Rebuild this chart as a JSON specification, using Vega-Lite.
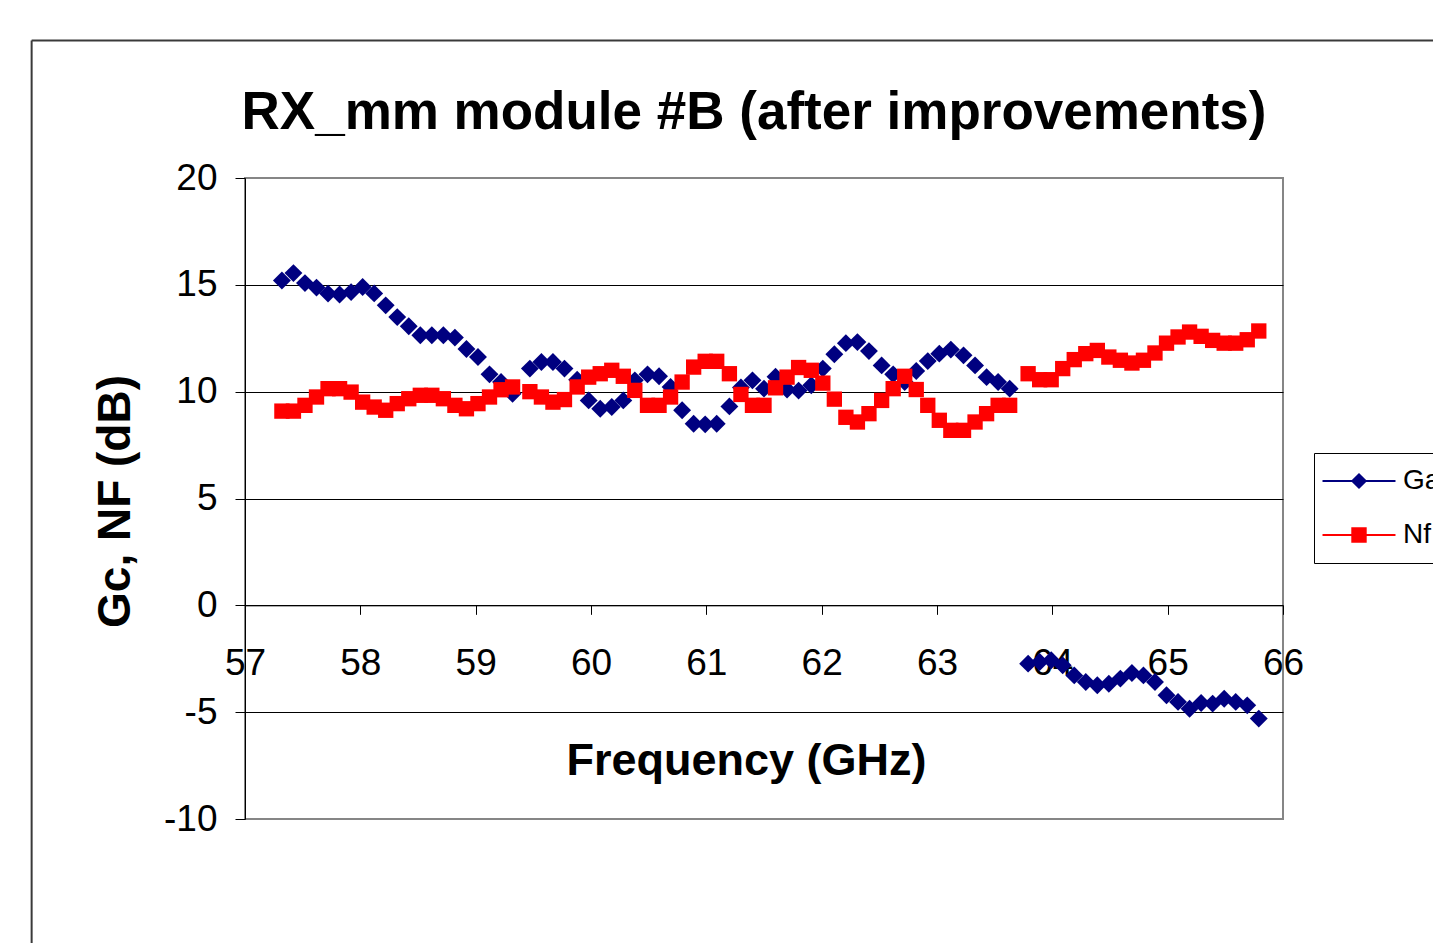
{
  "$schema": "https://vega.github.io/schema/vega-lite/v6.json",
  "width": 1038,
  "height": 641,
  "autosize": {"type": "none"},
  "padding": {"left": 245, "top": 178, "right": 150, "bottom": 124},
  "background": "white",
  "view": {"stroke": "#868686", "strokeWidth": 2, "fill": "white"},
  "title": {
    "text": "RX_mm module #B (after improvements)",
    "font": "Liberation Sans",
    "fontSize": 53,
    "fontWeight": "bold",
    "color": "black",
    "anchor": "middle",
    "dx": -10,
    "offset": -101
  },
  "config": {
    "font": "Liberation Sans"
  },
  "resolve": {
    "scale": {"color": "independent", "shape": "independent"},
    "legend": {"color": "independent", "shape": "independent"}
  },
  "data": {
    "values": [
      {"f": 57.32, "s": "Gain", "v": 15.2}, {"f": 57.42, "s": "Gain", "v": 15.55}, {"f": 57.52, "s": "Gain", "v": 15.08},
      {"f": 57.62, "s": "Gain", "v": 14.87}, {"f": 57.72, "s": "Gain", "v": 14.59}, {"f": 57.82, "s": "Gain", "v": 14.55},
      {"f": 57.92, "s": "Gain", "v": 14.66}, {"f": 58.02, "s": "Gain", "v": 14.9}, {"f": 58.12, "s": "Gain", "v": 14.6},
      {"f": 58.22, "s": "Gain", "v": 14.04}, {"f": 58.32, "s": "Gain", "v": 13.49}, {"f": 58.42, "s": "Gain", "v": 13.06},
      {"f": 58.52, "s": "Gain", "v": 12.64}, {"f": 58.62, "s": "Gain", "v": 12.64}, {"f": 58.72, "s": "Gain", "v": 12.64},
      {"f": 58.82, "s": "Gain", "v": 12.53}, {"f": 58.92, "s": "Gain", "v": 12.0}, {"f": 59.02, "s": "Gain", "v": 11.62},
      {"f": 59.12, "s": "Gain", "v": 10.81}, {"f": 59.22, "s": "Gain", "v": 10.45}, {"f": 59.32, "s": "Gain", "v": 9.9},
      {"f": 59.47, "s": "Gain", "v": 11.08}, {"f": 59.57, "s": "Gain", "v": 11.39}, {"f": 59.67, "s": "Gain", "v": 11.39},
      {"f": 59.77, "s": "Gain", "v": 11.08}, {"f": 59.88, "s": "Gain", "v": 10.56}, {"f": 59.98, "s": "Gain", "v": 9.59},
      {"f": 60.08, "s": "Gain", "v": 9.2}, {"f": 60.18, "s": "Gain", "v": 9.28}, {"f": 60.28, "s": "Gain", "v": 9.59},
      {"f": 60.38, "s": "Gain", "v": 10.53}, {"f": 60.49, "s": "Gain", "v": 10.81}, {"f": 60.59, "s": "Gain", "v": 10.72},
      {"f": 60.69, "s": "Gain", "v": 10.22}, {"f": 60.79, "s": "Gain", "v": 9.13}, {"f": 60.89, "s": "Gain", "v": 8.5},
      {"f": 60.99, "s": "Gain", "v": 8.47}, {"f": 61.09, "s": "Gain", "v": 8.5}, {"f": 61.2, "s": "Gain", "v": 9.31},
      {"f": 61.3, "s": "Gain", "v": 10.2}, {"f": 61.4, "s": "Gain", "v": 10.53}, {"f": 61.5, "s": "Gain", "v": 10.14},
      {"f": 61.6, "s": "Gain", "v": 10.7}, {"f": 61.7, "s": "Gain", "v": 10.1}, {"f": 61.8, "s": "Gain", "v": 10.05},
      {"f": 61.91, "s": "Gain", "v": 10.3}, {"f": 62.01, "s": "Gain", "v": 11.08}, {"f": 62.11, "s": "Gain", "v": 11.75},
      {"f": 62.21, "s": "Gain", "v": 12.27}, {"f": 62.31, "s": "Gain", "v": 12.32}, {"f": 62.41, "s": "Gain", "v": 11.9},
      {"f": 62.52, "s": "Gain", "v": 11.23}, {"f": 62.62, "s": "Gain", "v": 10.81}, {"f": 62.72, "s": "Gain", "v": 10.45},
      {"f": 62.82, "s": "Gain", "v": 10.97}, {"f": 62.92, "s": "Gain", "v": 11.43}, {"f": 63.02, "s": "Gain", "v": 11.78},
      {"f": 63.12, "s": "Gain", "v": 11.97}, {"f": 63.23, "s": "Gain", "v": 11.7}, {"f": 63.33, "s": "Gain", "v": 11.23},
      {"f": 63.43, "s": "Gain", "v": 10.68}, {"f": 63.53, "s": "Gain", "v": 10.45}, {"f": 63.63, "s": "Gain", "v": 10.14},
      {"f": 63.79, "s": "Gain", "v": -2.73}, {"f": 63.89, "s": "Gain", "v": -2.65}, {"f": 63.99, "s": "Gain", "v": -2.57},
      {"f": 64.09, "s": "Gain", "v": -2.81}, {"f": 64.19, "s": "Gain", "v": -3.28}, {"f": 64.29, "s": "Gain", "v": -3.59},
      {"f": 64.39, "s": "Gain", "v": -3.74}, {"f": 64.49, "s": "Gain", "v": -3.67}, {"f": 64.59, "s": "Gain", "v": -3.43},
      {"f": 64.69, "s": "Gain", "v": -3.17}, {"f": 64.79, "s": "Gain", "v": -3.28}, {"f": 64.89, "s": "Gain", "v": -3.59},
      {"f": 64.99, "s": "Gain", "v": -4.21}, {"f": 65.09, "s": "Gain", "v": -4.52}, {"f": 65.19, "s": "Gain", "v": -4.84},
      {"f": 65.29, "s": "Gain", "v": -4.57}, {"f": 65.39, "s": "Gain", "v": -4.6}, {"f": 65.49, "s": "Gain", "v": -4.37},
      {"f": 65.59, "s": "Gain", "v": -4.52}, {"f": 65.69, "s": "Gain", "v": -4.68}, {"f": 65.79, "s": "Gain", "v": -5.3},

      {"f": 57.32, "s": "Nf", "v": 9.09}, {"f": 57.42, "s": "Nf", "v": 9.09}, {"f": 57.52, "s": "Nf", "v": 9.36},
      {"f": 57.62, "s": "Nf", "v": 9.75}, {"f": 57.72, "s": "Nf", "v": 10.14}, {"f": 57.82, "s": "Nf", "v": 10.14},
      {"f": 57.92, "s": "Nf", "v": 9.98}, {"f": 58.02, "s": "Nf", "v": 9.51}, {"f": 58.12, "s": "Nf", "v": 9.28},
      {"f": 58.22, "s": "Nf", "v": 9.13}, {"f": 58.32, "s": "Nf", "v": 9.44}, {"f": 58.42, "s": "Nf", "v": 9.67},
      {"f": 58.52, "s": "Nf", "v": 9.83}, {"f": 58.62, "s": "Nf", "v": 9.83}, {"f": 58.72, "s": "Nf", "v": 9.67},
      {"f": 58.82, "s": "Nf", "v": 9.36}, {"f": 58.92, "s": "Nf", "v": 9.2}, {"f": 59.02, "s": "Nf", "v": 9.44},
      {"f": 59.12, "s": "Nf", "v": 9.75}, {"f": 59.22, "s": "Nf", "v": 10.09}, {"f": 59.32, "s": "Nf", "v": 10.22},
      {"f": 59.47, "s": "Nf", "v": 10.0}, {"f": 59.57, "s": "Nf", "v": 9.75}, {"f": 59.67, "s": "Nf", "v": 9.51},
      {"f": 59.77, "s": "Nf", "v": 9.63}, {"f": 59.88, "s": "Nf", "v": 10.22}, {"f": 59.98, "s": "Nf", "v": 10.68},
      {"f": 60.08, "s": "Nf", "v": 10.84}, {"f": 60.18, "s": "Nf", "v": 11.0}, {"f": 60.28, "s": "Nf", "v": 10.72},
      {"f": 60.38, "s": "Nf", "v": 10.06}, {"f": 60.49, "s": "Nf", "v": 9.36}, {"f": 60.59, "s": "Nf", "v": 9.36},
      {"f": 60.69, "s": "Nf", "v": 9.75}, {"f": 60.79, "s": "Nf", "v": 10.45}, {"f": 60.89, "s": "Nf", "v": 11.15},
      {"f": 60.99, "s": "Nf", "v": 11.42}, {"f": 61.09, "s": "Nf", "v": 11.42}, {"f": 61.2, "s": "Nf", "v": 10.84},
      {"f": 61.3, "s": "Nf", "v": 9.87}, {"f": 61.4, "s": "Nf", "v": 9.36}, {"f": 61.5, "s": "Nf", "v": 9.36},
      {"f": 61.6, "s": "Nf", "v": 10.18}, {"f": 61.7, "s": "Nf", "v": 10.68}, {"f": 61.8, "s": "Nf", "v": 11.13},
      {"f": 61.91, "s": "Nf", "v": 11.0}, {"f": 62.01, "s": "Nf", "v": 10.4}, {"f": 62.11, "s": "Nf", "v": 9.65},
      {"f": 62.21, "s": "Nf", "v": 8.8}, {"f": 62.31, "s": "Nf", "v": 8.58}, {"f": 62.41, "s": "Nf", "v": 8.97},
      {"f": 62.52, "s": "Nf", "v": 9.59}, {"f": 62.62, "s": "Nf", "v": 10.14}, {"f": 62.72, "s": "Nf", "v": 10.72},
      {"f": 62.82, "s": "Nf", "v": 10.1}, {"f": 62.92, "s": "Nf", "v": 9.36}, {"f": 63.02, "s": "Nf", "v": 8.66},
      {"f": 63.12, "s": "Nf", "v": 8.19}, {"f": 63.23, "s": "Nf", "v": 8.19}, {"f": 63.33, "s": "Nf", "v": 8.58},
      {"f": 63.43, "s": "Nf", "v": 8.97}, {"f": 63.53, "s": "Nf", "v": 9.36}, {"f": 63.63, "s": "Nf", "v": 9.36},
      {"f": 63.79, "s": "Nf", "v": 10.84}, {"f": 63.89, "s": "Nf", "v": 10.56}, {"f": 63.99, "s": "Nf", "v": 10.56},
      {"f": 64.09, "s": "Nf", "v": 11.08}, {"f": 64.19, "s": "Nf", "v": 11.5}, {"f": 64.29, "s": "Nf", "v": 11.78},
      {"f": 64.39, "s": "Nf", "v": 11.93}, {"f": 64.49, "s": "Nf", "v": 11.62}, {"f": 64.59, "s": "Nf", "v": 11.47},
      {"f": 64.69, "s": "Nf", "v": 11.34}, {"f": 64.79, "s": "Nf", "v": 11.47}, {"f": 64.89, "s": "Nf", "v": 11.81},
      {"f": 64.99, "s": "Nf", "v": 12.27}, {"f": 65.09, "s": "Nf", "v": 12.56}, {"f": 65.19, "s": "Nf", "v": 12.79},
      {"f": 65.29, "s": "Nf", "v": 12.59}, {"f": 65.39, "s": "Nf", "v": 12.4}, {"f": 65.49, "s": "Nf", "v": 12.27},
      {"f": 65.59, "s": "Nf", "v": 12.27}, {"f": 65.69, "s": "Nf", "v": 12.43}, {"f": 65.79, "s": "Nf", "v": 12.84}
    ]
  },
  "layer": [
    {
      "data": {"values": [{}]},
      "mark": {"type": "rule", "clip": false, "color": "#3a3a3a", "strokeWidth": 2},
      "encoding": {
        "x": {"datum": 55.15, "type": "quantitative"},
        "y": {"datum": 26.44, "type": "quantitative"},
        "y2": {"datum": -20}
      }
    },
    {
      "data": {"values": [{}]},
      "mark": {"type": "rule", "clip": false, "color": "#3a3a3a", "strokeWidth": 2},
      "encoding": {
        "x": {"datum": 55.15, "type": "quantitative"},
        "x2": {"datum": 70},
        "y": {"datum": 26.44, "type": "quantitative"}
      }
    },
    {
      "mark": {"type": "point", "filled": true, "opacity": 1},
      "encoding": {
        "x": {
          "field": "f",
          "type": "quantitative",
          "scale": {"domain": [57, 66], "nice": false, "zero": false},
          "axis": {
            "values": [57, 58, 59, 60, 61, 62, 63, 64, 65, 66],
            "labelExpr": "'' + datum.value",
            "grid": false,
            "offset": -213.67,
            "domainColor": "black",
            "domainWidth": 1,
            "tickColor": "black",
            "tickSize": 9,
            "labelPadding": 31,
            "labelFont": "Liberation Sans",
            "labelFontSize": 37,
            "labelColor": "black",
            "labelFlush": false,
            "labelOverlap": false,
            "title": "Frequency (GHz)",
            "titleFont": "Liberation Sans",
            "titleFontSize": 45,
            "titleFontWeight": "bold",
            "titleColor": "black",
            "titleX": 501,
            "titleY": 169,
            "titleAlign": "center",
            "titleBaseline": "alphabetic"
          }
        },
        "y": {
          "field": "v",
          "type": "quantitative",
          "scale": {"domain": [-10, 20], "nice": false, "zero": false},
          "axis": {
            "values": [-10, -5, 0, 5, 10, 15, 20],
            "labelExpr": "'' + datum.value",
            "grid": true,
            "gridColor": {"condition": {"test": "datum.value == 20 || datum.value == -10", "value": "transparent"}, "value": "black"},
            "gridWidth": 1,
            "gridOpacity": 1,
            "domainColor": "black",
            "domainWidth": 1,
            "tickColor": "black",
            "tickSize": 10,
            "labelPadding": 18,
            "labelFont": "Liberation Sans",
            "labelFontSize": 37,
            "labelColor": "black",
            "labelFlush": false,
            "labelOverlap": false,
            "title": "Gc, NF (dB)",
            "titleFont": "Liberation Sans",
            "titleFontSize": 46,
            "titleFontWeight": "bold",
            "titleColor": "black",
            "titleX": -116,
            "titleY": 323,
            "titleAngle": -90,
            "titleAlign": "center",
            "titleBaseline": "alphabetic"
          }
        },
        "color": {
          "field": "s",
          "type": "nominal",
          "scale": {"domain": ["Gain", "Nf"], "range": ["#000080", "#FF0000"]},
          "legend": null
        },
        "shape": {"condition": {"test": "datum.s === 'Gain'", "value": "diamond"}, "value": "square"},
        "size": {"condition": {"test": "datum.s === 'Gain'", "value": 320}, "value": 235}
      }
    },
    {
      "transform": [{"filter": "datum.v > 1000"}],
      "mark": {"type": "point", "filled": true, "opacity": 1},
      "encoding": {
        "x": {"field": "f", "type": "quantitative"},
        "y": {"field": "v", "type": "quantitative"},
        "color": {
          "field": "s",
          "type": "nominal",
          "scale": {"domain": ["Gain", "Nf"], "range": ["#000080", "#FF0000"]},
          "legend": {
            "orient": "none",
            "legendX": 1069,
            "legendY": 275,
            "title": null,
            "strokeColor": "black",
            "fillColor": "white",
            "padding": 14,
            "labelFont": "Liberation Sans",
            "labelFontSize": 28,
            "labelColor": "black",
            "labelLimit": 0,
            "symbolSize": 263,
            "symbolOffset": 17,
            "labelOffset": 30,
            "rowPadding": 26
          }
        },
        "shape": {
          "field": "s",
          "type": "nominal",
          "scale": {
            "domain": ["Gain", "Nf"],
            "range": ["M-4.5,-0.13H4.5V0.13H-4.5ZM0,-1L1,0L0,1L-1,0Z", "M-4.5,-0.13H4.5V0.13H-4.5ZM-0.95,-0.95H0.95V0.95H-0.95Z"]
          },
          "legend": {
            "orient": "none",
            "legendX": 1069,
            "legendY": 275,
            "title": null,
            "strokeColor": "black",
            "fillColor": "white",
            "padding": 14,
            "labelFont": "Liberation Sans",
            "labelFontSize": 28,
            "labelColor": "black",
            "labelLimit": 0,
            "symbolSize": 263,
            "symbolOffset": 17,
            "labelOffset": 30,
            "rowPadding": 26
          }
        }
      }
    }
  ]
}
